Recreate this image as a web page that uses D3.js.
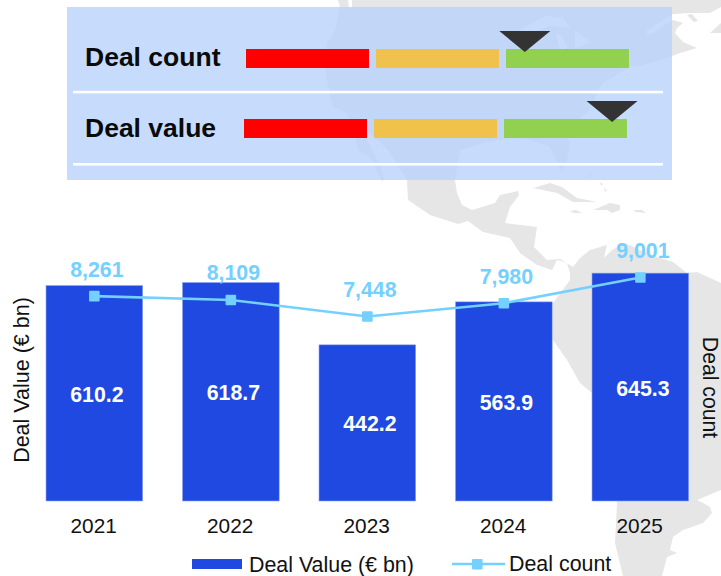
<!DOCTYPE html>
<html>
<head>
<meta charset="utf-8">
<script src="https://cdn.jsdelivr.net/npm/d3@7/dist/d3.min.js"></script>
<style>
html,body{margin:0;padding:0;background:#fff}
svg{display:block}
text{font-family:"Liberation Sans",Arial,sans-serif}
</style>
</head>
<body>
<svg id="chart" width="721" height="576"></svg>
<script>
// ---- chart data ----
const years = ["2021", "2022", "2023", "2024", "2025"];
const dealValue = [610.2, 618.7, 442.2, 563.9, 645.3];
const dealCount = [8261, 8109, 7448, 7980, 9001];
const gaugeRows = ["Deal count", "Deal value"];
const gaugeMarkers = [0.728, 0.961];
const gaugeBands = ["low", "mid", "high"];
const gaugeColors = ["#ff0000", "#f0c14b", "#92d050"];
const legendLabels = ["Deal Value (€ bn)", "Deal count"];
const axisTitles = ["Deal Value (€ bn)", "Deal count"];

const svg = d3.select("#chart");
const FG = "#111", BLUE = "#1f49e0", CYAN = "#74d0ff";

// ---- background map (decorative) ----
const mapShapes = [
  [[338,0],[721,0],[721,7],[710,13],[690,13],[673,14],[660,22],[645,32],[650,35],[665,25],[673,20],[683,23],[677,28],[675,33],[683,42],[697,48],[680,53],[667,58],[640,66],[630,67],[603,83],[597,93],[590,110],[565,133],[570,143],[567,160],[562,172],[556,160],[550,147],[530,140],[513,138],[487,142],[460,150],[455,180],[457,193],[462,205],[472,210],[495,203],[500,195],[518,191],[519,195],[510,207],[505,223],[537,227],[534,247],[547,260],[560,259],[573,267],[580,258],[590,250],[607,245],[604,258],[612,250],[625,243],[640,250],[657,257],[673,262],[687,273],[697,272],[721,283],[721,490],[697,500],[703,503],[710,507],[712,513],[703,523],[683,530],[673,537],[670,550],[677,553],[667,557],[662,576],[623,576],[615,543],[617,503],[592,393],[580,383],[567,360],[553,340],[553,303],[570,280],[570,273],[567,263],[557,260],[552,270],[537,265],[520,253],[510,238],[483,232],[468,221],[458,224],[430,215],[408,200],[407,180],[388,150],[372,135],[358,122],[368,142],[380,165],[384,180],[382,181],[370,157],[358,150],[353,130],[347,113],[333,107],[330,97],[325,67],[327,43],[335,30],[340,7]],
  [[533,188],[550,183],[562,187],[577,198],[597,202],[573,202],[557,193]],
  [[593,210],[610,203],[620,205],[620,210],[612,213],[607,210]],
  [[570,211],[576,210],[582,213],[574,213]],
  [[633,210],[642,210],[646,213],[636,212]],
  [[710,33],[721,23],[721,33]],
  [[687,15],[692,14],[698,21],[694,22]],
  [[604,188],[607,190],[605,192]],
  [[589,172],[592,176],[590,178]],
  [[600,182],[603,184],[601,186]]
];
const waterShapes = [
  [[348,0],[352,0],[352,8],[349,8]],
  [[520,30],[545,16],[563,18],[570,28],[550,26],[530,33]],
  [[556,33],[562,36],[567,48],[560,50]],
  [[575,30],[590,42],[583,46],[575,48]],
  [[580,58],[600,48],[598,52],[585,62]],
  [[600,54],[610,49],[612,52],[602,57]]
];
const lineGen = d3.line();
svg.append("g").selectAll("path").data(mapShapes).join("path")
  .attr("d", d => lineGen(d) + "Z").attr("fill", "#e6e6e6");
svg.append("g").selectAll("path").data(waterShapes).join("path")
  .attr("d", d => lineGen(d) + "Z").attr("fill", "#fff");

// ---- KPI panel ----
svg.append("rect").attr("x", 67).attr("y", 7).attr("width", 605).attr("height", 173)
  .attr("fill", "rgb(185,210,252)").attr("fill-opacity", 0.8);

const rowY = d3.scalePoint().domain(gaugeRows).range([49, 119]);
const rowX0 = d3.scaleOrdinal().domain(gaugeRows).range([246, 244]);
const labelY = d3.scalePoint().domain(gaugeRows).range([66, 137]);
const ruleY = d3.scalePoint().domain(gaugeRows).range([90.8, 163]);
const bandX = d3.scaleBand().domain(gaugeBands).range([0, 383]).paddingInner(7 / 130).paddingOuter(0);
const markerX = d3.scaleLinear().domain([0, 1]).range([0, 383]);

gaugeRows.forEach((row, i) => {
  const y = rowY(row), x0 = rowX0(row);
  const g = svg.append("g");
  g.append("text").attr("x", 85).attr("y", labelY(row)).attr("font-size", 26.5).attr("font-weight", 700)
    .attr("fill", "#0a0a0a").text(row);
  g.selectAll("rect").data(gaugeBands).join("rect")
    .attr("x", b => x0 + bandX(b)).attr("y", y)
    .attr("width", bandX.bandwidth()).attr("height", 19)
    .attr("fill", (b, j) => gaugeColors[j]);
  const mx = x0 + markerX(gaugeMarkers[i]);
  g.append("path")
    .attr("d", lineGen([[mx - 25.5, y - 18], [mx + 25.5, y - 18], [mx, y + 3]]) + "Z")
    .attr("fill", "#333333");
  g.append("rect").attr("x", 73).attr("y", ruleY(row)).attr("width", 590).attr("height", 2.6).attr("fill", "#fff");
});

// ---- bars + line ----
const x = d3.scaleBand().domain(years).range([26.1, 708.6]).paddingInner(0.2916).paddingOuter(0.1458);
const yValue = d3.scaleLinear().domain([0, 700]).range([501, 253.8]);
const yCount = d3.scaleLinear().domain([0, 10000]).range([503.5, 252.5]);

svg.append("g").selectAll("rect").data(years).join("rect")
  .attr("x", d => x(d)).attr("width", x.bandwidth())
  .attr("y", (d, i) => yValue(dealValue[i]))
  .attr("height", (d, i) => yValue(0) - yValue(dealValue[i]))
  .attr("fill", BLUE).attr("stroke", "#8fa6f2").attr("stroke-width", 0.6);

svg.append("g").selectAll("text").data(years).join("text")
  .attr("x", d => x(d) + x.bandwidth() / 2 + 2.5)
  .attr("y", (d, i) => (yValue(dealValue[i]) + yValue(0)) / 2 + 8.5)
  .attr("text-anchor", "middle").attr("font-size", 21.3).attr("font-weight", 700).attr("fill", "#fff")
  .text((d, i) => d3.format(".1f")(dealValue[i]));

const cx = d => x(d) + x.bandwidth() / 2;
svg.append("path")
  .attr("d", d3.line().x(cx).y((d, i) => yCount(dealCount[i]))(years))
  .attr("fill", "none").attr("stroke", CYAN).attr("stroke-width", 2.6);
svg.append("g").selectAll("rect").data(years).join("rect")
  .attr("x", d => cx(d) - 5.3).attr("y", (d, i) => yCount(dealCount[i]) - 5.3)
  .attr("width", 10.6).attr("height", 10.6).attr("rx", 1).attr("fill", CYAN);
svg.append("g").selectAll("text").data(years).join("text")
  .attr("x", d => cx(d) + 2.5)
  .attr("y", (d, i) => yCount(dealCount[i]) - 19.5)
  .attr("text-anchor", "middle").attr("font-size", 21.3).attr("font-weight", 700).attr("fill", CYAN)
  .text((d, i) => d3.format(",")(dealCount[i]));

// ---- x axis ----
const xAxis = svg.append("g").attr("transform", "translate(-0.7,501)")
  .call(d3.axisBottom(x).tickSize(0).tickPadding(17));
xAxis.select(".domain").remove();
xAxis.selectAll("text").attr("font-size", 20.8).attr("fill", FG)
  .style("font-family", '"Liberation Sans",Arial,sans-serif');

// ---- axis titles ----
svg.append("text").attr("transform", "translate(29,380) rotate(-90)")
  .attr("text-anchor", "middle").attr("font-size", 21.5).attr("fill", FG).text(axisTitles[0]);
svg.append("text").attr("transform", "translate(703,387.5) rotate(90)")
  .attr("text-anchor", "middle").attr("font-size", 21.2).attr("fill", FG).text(axisTitles[1]);

// ---- legend ----
svg.append("rect").attr("x", 192).attr("y", 559).attr("width", 50).attr("height", 10).attr("fill", BLUE);
svg.append("text").attr("x", 249).attr("y", 572).attr("font-size", 21.4).attr("fill", FG).text(legendLabels[0]);
svg.append("line").attr("x1", 452).attr("x2", 505).attr("y1", 564).attr("y2", 564)
  .attr("stroke", CYAN).attr("stroke-width", 2.6);
svg.append("rect").attr("x", 472).attr("y", 559).attr("width", 10.6).attr("height", 10.6).attr("rx", 1).attr("fill", CYAN);
svg.append("text").attr("x", 509).attr("y", 571).attr("font-size", 21.4).attr("fill", FG).text(legendLabels[1]);
</script>
</body>
</html>
